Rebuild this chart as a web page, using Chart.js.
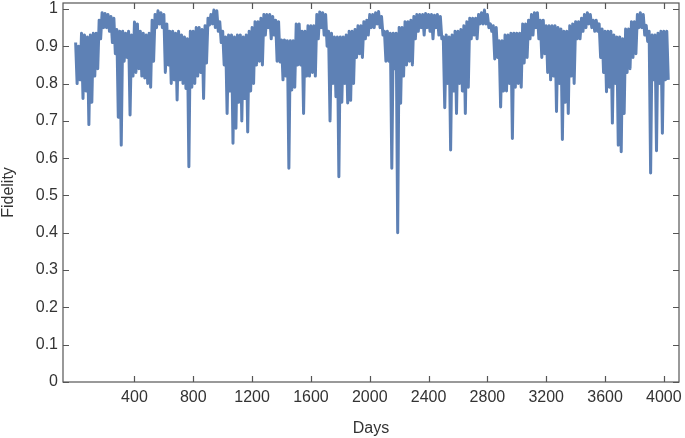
<!DOCTYPE html>
<html>
<head>
<meta charset="utf-8">
<title>Fidelity vs Days</title>
<script src="https://cdn.jsdelivr.net/npm/chart.js@4"></script>
<style>
  html, body { margin: 0; padding: 0; background: #fff; }
</style>
</head>
<body>
<canvas id="chart" width="685" height="438"></canvas>
<script>
var firstDay = 0;
var dayStep = 10;
var fidelity = [
    0.91, 0.80, 0.90, 0.81, 0.935, 0.76, 0.93, 0.78, 0.925, 0.69, 0.93, 0.75, 0.935, 0.82, 0.935, 0.84, 0.97, 0.92, 0.99, 0.95,
    0.988, 0.95, 0.985, 0.94, 0.98, 0.91, 0.975, 0.88, 0.945, 0.71, 0.94, 0.635, 0.94, 0.86, 0.935, 0.87, 0.94, 0.716, 0.93, 0.82,
    0.965, 0.83, 0.96, 0.84, 0.94, 0.82, 0.935, 0.815, 0.93, 0.80, 0.935, 0.79, 0.97, 0.86, 0.985, 0.95, 0.995, 0.96, 0.99, 0.95,
    0.985, 0.83, 0.96, 0.85, 0.94, 0.80, 0.94, 0.81, 0.935, 0.756, 0.94, 0.81, 0.93, 0.80, 0.925, 0.787, 0.92, 0.577, 0.94, 0.79,
    0.94, 0.80, 0.95, 0.82, 0.95, 0.83, 0.945, 0.76, 0.955, 0.855, 0.975, 0.957, 0.985, 0.96, 0.997, 0.95, 0.995, 0.94, 0.966, 0.91,
    0.94, 0.85, 0.925, 0.72, 0.93, 0.78, 0.93, 0.64, 0.925, 0.68, 0.93, 0.75, 0.93, 0.70, 0.925, 0.76, 0.93, 0.67, 0.94, 0.78,
    0.95, 0.80, 0.966, 0.85, 0.966, 0.86, 0.975, 0.85, 0.985, 0.93, 0.985, 0.95, 0.985, 0.92, 0.98, 0.93, 0.97, 0.86, 0.966, 0.858,
    0.917, 0.81, 0.917, 0.82, 0.915, 0.573, 0.915, 0.783, 0.915, 0.79, 0.96, 0.85, 0.96, 0.85, 0.94, 0.72, 0.94, 0.82, 0.955, 0.82,
    0.955, 0.83, 0.955, 0.82, 0.985, 0.92, 0.992, 0.95, 0.99, 0.93, 0.985, 0.90, 0.94, 0.70, 0.935, 0.80, 0.925, 0.765, 0.925, 0.55,
    0.925, 0.75, 0.925, 0.80, 0.93, 0.748, 0.94, 0.755, 0.94, 0.80, 0.945, 0.87, 0.955, 0.88, 0.955, 0.87, 0.966, 0.92, 0.97, 0.93,
    0.985, 0.95, 0.985, 0.95, 0.99, 0.96, 0.993, 0.95, 0.98, 0.93, 0.94, 0.86, 0.94, 0.86, 0.935, 0.573, 0.935, 0.84, 0.935, 0.40,
    0.95, 0.747, 0.95, 0.82, 0.966, 0.85, 0.966, 0.86, 0.97, 0.85, 0.98, 0.92, 0.985, 0.94, 0.985, 0.95, 0.985, 0.93, 0.988, 0.95,
    0.985, 0.94, 0.985, 0.92, 0.983, 0.95, 0.985, 0.93, 0.98, 0.92, 0.925, 0.735, 0.93, 0.80, 0.925, 0.622, 0.93, 0.78, 0.94, 0.72,
    0.94, 0.80, 0.945, 0.78, 0.955, 0.72, 0.966, 0.79, 0.975, 0.92, 0.975, 0.93, 0.975, 0.92, 0.985, 0.96, 0.99, 0.96, 0.997, 0.96,
    0.985, 0.95, 0.96, 0.94, 0.955, 0.866, 0.95, 0.87, 0.915, 0.737, 0.915, 0.78, 0.93, 0.78, 0.93, 0.80, 0.935, 0.653, 0.935, 0.79,
    0.935, 0.80, 0.935, 0.79, 0.96, 0.855, 0.96, 0.87, 0.97, 0.92, 0.985, 0.93, 0.99, 0.95, 0.99, 0.92, 0.97, 0.87, 0.97, 0.88,
    0.955, 0.83, 0.955, 0.81, 0.955, 0.82, 0.955, 0.725, 0.95, 0.80, 0.946, 0.65, 0.94, 0.75, 0.94, 0.72, 0.955, 0.82, 0.96, 0.80,
    0.966, 0.92, 0.966, 0.92, 0.975, 0.94, 0.985, 0.95, 0.99, 0.96, 0.985, 0.95, 0.97, 0.94, 0.97, 0.94, 0.96, 0.87, 0.946, 0.83,
    0.94, 0.778, 0.94, 0.79, 0.94, 0.694, 0.93, 0.80, 0.925, 0.635, 0.925, 0.617, 0.92, 0.72, 0.946, 0.83, 0.946, 0.84, 0.966, 0.87,
    0.966, 0.88, 0.985, 0.95, 0.99, 0.95, 0.985, 0.93, 0.956, 0.913, 0.94, 0.56, 0.93, 0.81, 0.93, 0.62, 0.935, 0.80, 0.94, 0.667,
    0.94, 0.81, 0.94, 0.81
];

var xTicks = [400, 800, 1200, 1600, 2000, 2400, 2800, 3200, 3600, 4000];
var yTicks = [0, 0.1, 0.2, 0.3, 0.4, 0.5, 0.6, 0.7, 0.8, 0.9, 1];

var xTitle = 'Days';
var yTitle = 'Fidelity';

var lineColor = '#5E81B5';
var textColor = '#333333';
var frameColor = '#555555';
var fontFamily = "'Liberation Sans', Arial, Helvetica, sans-serif";

var points = fidelity.map(function (f, i) {
    return { x: firstDay + i * dayStep, y: f };
});

// frame on all four sides with ticks pointing inward
var frameTicks = {
    id: 'frameTicks',
    afterDraw: function (chart) {
        var ctx = chart.ctx;
        var a = chart.chartArea;
        var xs = chart.scales.x;
        var ys = chart.scales.y;
        var len = 6;
        ctx.save();
        ctx.strokeStyle = frameColor;
        ctx.lineWidth = 1.2;
        ctx.strokeRect(a.left, a.top, a.right - a.left, a.bottom - a.top);
        ctx.beginPath();
        xTicks.forEach(function (v) {
            var px = Math.round(xs.getPixelForValue(v)) + 0.5;
            ctx.moveTo(px, a.bottom);
            ctx.lineTo(px, a.bottom - len);
            ctx.moveTo(px, a.top);
            ctx.lineTo(px, a.top + len);
        });
        yTicks.forEach(function (v) {
            var py = Math.round(ys.getPixelForValue(v)) + 0.5;
            ctx.moveTo(a.left, py);
            ctx.lineTo(a.left + len, py);
            ctx.moveTo(a.right, py);
            ctx.lineTo(a.right - len, py);
        });
        ctx.stroke();
        ctx.restore();
    }
};

new Chart(document.getElementById('chart').getContext('2d'), {
    type: 'line',
    data: {
        datasets: [{
            data: points,
            borderColor: lineColor,
            borderWidth: 3,
            borderJoinStyle: 'round',
            pointRadius: 0,
            tension: 0,
            fill: false
        }]
    },
    options: {
        responsive: false,
        animation: false,
        events: [],
        layout: { padding: { top: 3, right: 6, left: 0, bottom: 0 } },
        plugins: {
            legend: { display: false },
            tooltip: { enabled: false }
        },
        scales: {
            x: {
                type: 'linear',
                min: -86,
                max: 4103,
                grid: { display: false, drawTicks: false },
                border: { display: false },
                afterBuildTicks: function (scale) {
                    scale.ticks = xTicks.map(function (v) { return { value: v }; });
                },
                afterFit: function (scale) {
                    scale.height = 56;
                    scale.paddingLeft = 0;
                    scale.paddingRight = 0;
                },
                ticks: {
                    autoSkip: false,
                    maxRotation: 0,
                    padding: 6,
                    color: textColor,
                    font: { family: fontFamily, size: 16 },
                    callback: function (v) { return String(v); }
                },
                title: {
                    display: true,
                    text: xTitle,
                    color: textColor,
                    padding: { top: 1, bottom: 0 },
                    font: { family: fontFamily, size: 16 }
                }
            },
            y: {
                min: 0,
                max: 1.016,
                grid: { display: false, drawTicks: false },
                border: { display: false },
                afterBuildTicks: function (scale) {
                    scale.ticks = yTicks.map(function (v) { return { value: v }; });
                },
                afterFit: function (scale) {
                    scale.width = 63;
                    scale.paddingTop = 0;
                    scale.paddingBottom = 0;
                },
                ticks: {
                    autoSkip: false,
                    padding: 5,
                    color: textColor,
                    font: { family: fontFamily, size: 16 },
                    callback: function (v) { return String(v); }
                },
                title: {
                    display: true,
                    text: yTitle,
                    color: textColor,
                    padding: { top: 1, bottom: 0 },
                    font: { family: fontFamily, size: 16, lineHeight: 1 }
                }
            }
        }
    },
    plugins: [frameTicks]
});
</script>
</body>
</html>
